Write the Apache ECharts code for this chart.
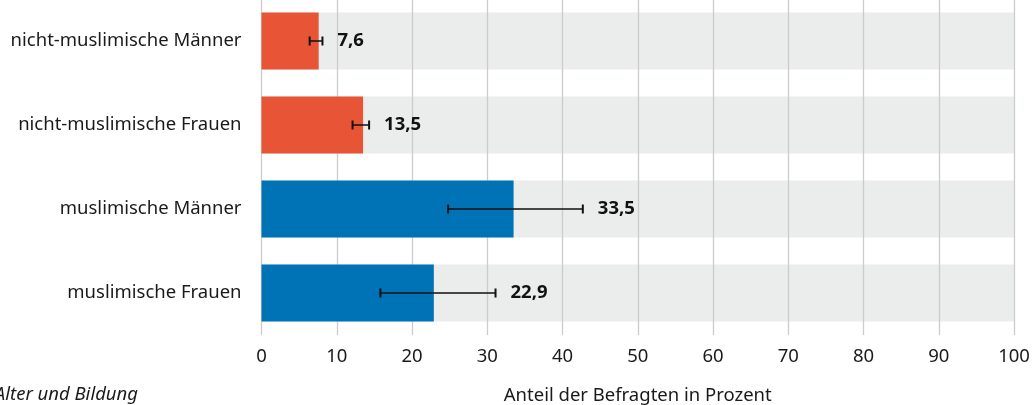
<!DOCTYPE html>
<html lang="de">
<head>
    <meta charset="UTF-8">
    <title>Anteil der Befragten</title>
    <script src="https://cdn.jsdelivr.net/npm/echarts@6/dist/echarts.min.js"></script>
    <style>
        html, body {
            margin: 0;
            padding: 0;
            background: #fff;
        }

        #main {
            width: 1036px;
            height: 405px;
        }
    </style>
</head>
<body>
<div id="main"></div>

<script type="text/javascript">
    // Gruppen (von oben nach unten)
    var groups = ['nicht-muslimische Männer', 'nicht-muslimische Frauen', 'muslimische Männer', 'muslimische Frauen'];
    // Anteil in Prozent
    var values = [7.6, 13.5, 33.5, 22.9];
    // Konfidenzintervall unten / oben
    var errLow = [6.4, 12.1, 24.8, 15.8];
    var errHigh = [8.1, 14.3, 42.7, 31.1];
    var barColors = ['#e85536', '#e85536', '#0072b6', '#0072b6'];
    var xTicks = [0, 10, 20, 30, 40, 50, 60, 70, 80, 90, 100];

    var fontFam = '"Noto Sans", sans-serif';
    var fs = 18.5;

    var myChart = echarts.init(document.getElementById('main'), null, {renderer: 'canvas'});

    var errData = groups.map(function (g, i) {
        return [i, errLow[i], errHigh[i], values[i]];
    });

    var option = {
        animation: false,
        textStyle: {fontFamily: fontFam},
        grid: {
            left: 261.5,
            right: 22,
            top: -1,
            height: 336,
            outerBoundsMode: 'none',
            containLabel: false
        },
        xAxis: {
            type: 'value',
            min: xTicks[0],
            max: xTicks[xTicks.length - 1],
            interval: 10,
            z: 1,
            axisLine: {show: false},
            axisTick: {show: false},
            axisLabel: {
                color: '#1a1a1a',
                fontSize: fs,
                margin: 12
            },
            splitLine: {
                show: true,
                lineStyle: {color: '#cccccc', width: 1.3}
            },
            name: 'Anteil der Befragten in Prozent',
            nameLocation: 'middle',
            nameGap: 51,
            nameTextStyle: {
                color: '#1a1a1a',
                fontSize: fs
            }
        },
        yAxis: {
            type: 'category',
            data: groups,
            inverse: true,
            axisLine: {show: false},
            axisTick: {show: false},
            axisLabel: {
                color: '#1a1a1a',
                fontSize: fs,
                margin: 20
            }
        },
        graphic: [{
            type: 'text',
            x: 138,
            y: 395,
            style: {
                text: 'Alter und Bildung',
                fill: '#1a1a1a',
                font: 'italic 18.5px "Noto Sans", sans-serif',
                align: 'right',
                verticalAlign: 'middle'
            }
        }],
        series: [
            {
                // graue Hintergrundbänder
                type: 'bar',
                z: 0,
                silent: true,
                barWidth: 57,
                barGap: '-100%',
                data: groups.map(function () { return xTicks[xTicks.length - 1]; }),
                itemStyle: {color: '#ebecec'}
            },
            {
                type: 'bar',
                z: 2,
                barWidth: 57,
                barGap: '-100%',
                data: values.map(function (v, i) {
                    return {value: v, itemStyle: {color: barColors[i]}};
                })
            },
            {
                // Fehlerbalken + Werte
                type: 'custom',
                z: 3,
                data: errData,
                encode: {x: [1, 2], y: 0},
                renderItem: function (params, api) {
                    var cat = api.value(0);
                    var lo = api.coord([api.value(1), cat]);
                    var hi = api.coord([api.value(2), cat]);
                    var val = api.value(3);
                    var vPt = api.coord([val, cat]);
                    var capH = 4.5;
                    var st = {stroke: '#111', lineWidth: 1.5};
                    var txtX = Math.max(hi[0], vPt[0]) + 15;
                    return {
                        type: 'group',
                        children: [
                            {type: 'line', shape: {x1: lo[0], y1: lo[1], x2: hi[0], y2: hi[1]}, style: st},
                            {type: 'line', shape: {x1: lo[0], y1: lo[1] - capH, x2: lo[0], y2: lo[1] + capH}, style: {stroke: '#111', lineWidth: 2}},
                            {type: 'line', shape: {x1: hi[0], y1: hi[1] - capH, x2: hi[0], y2: hi[1] + capH}, style: {stroke: '#111', lineWidth: 2}},
                            {
                                type: 'text',
                                x: txtX,
                                y: lo[1],
                                style: {
                                    text: val.toFixed(1).replace('.', ','),
                                    fill: '#111',
                                    font: 'bold 18.5px "Noto Sans", sans-serif',
                                    verticalAlign: 'middle',
                                    align: 'left'
                                }
                            }
                        ]
                    };
                }
            }
        ]
    };

    myChart.setOption(option);
</script>

</body>
</html>
